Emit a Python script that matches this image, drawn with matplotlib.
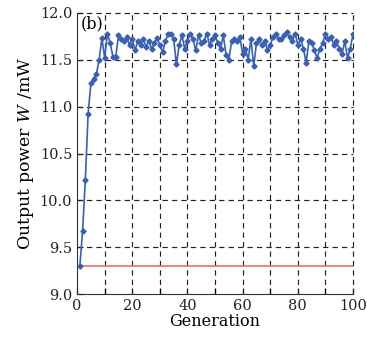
import matplotlib
matplotlib.use('Agg')
import matplotlib.pyplot as plt

plt.rcParams['font.family'] = ['DejaVu Serif']
plt.rcParams['mathtext.fontset'] = 'dejavuserif'

generation = list(range(1, 101))
power = [
    9.30, 9.67, 10.22, 10.92, 11.25, 11.30, 11.35, 11.50, 11.73, 11.52,
    11.78, 11.68, 11.53, 11.53, 11.76, 11.72, 11.70, 11.74, 11.66, 11.72,
    11.60, 11.70, 11.66, 11.72, 11.64, 11.70, 11.62, 11.68, 11.73, 11.66,
    11.58, 11.70, 11.77, 11.78, 11.72, 11.45, 11.66, 11.76, 11.62, 11.70,
    11.78, 11.72, 11.60, 11.76, 11.68, 11.70, 11.78, 11.66, 11.72, 11.76,
    11.68, 11.62, 11.76, 11.55, 11.50, 11.70, 11.72, 11.70, 11.74, 11.56,
    11.62, 11.50, 11.72, 11.43, 11.68, 11.72, 11.66, 11.70, 11.60, 11.66,
    11.74, 11.78, 11.72, 11.72, 11.76, 11.80, 11.74, 11.70, 11.78, 11.66,
    11.72, 11.62, 11.47, 11.70, 11.68, 11.60, 11.52, 11.62, 11.68, 11.78,
    11.72, 11.74, 11.66, 11.70, 11.62, 11.56, 11.70, 11.52, 11.62, 11.78,
]
baseline = 9.30

fig = plt.figure(figsize=(3.67, 3.40), dpi=100)
ax = fig.add_axes([0.210, 0.135, 0.752, 0.827])

ax.axhline(baseline, color='#e8735a', lw=1.2, zorder=2)
ax.plot(generation, power, color='#3a60b3', lw=1.2, marker='D', ms=2.6,
        zorder=3)

ax.set_xlim(0, 100)
ax.set_ylim(9.0, 12.0)
ax.set_xticks(range(0, 101, 20))
ax.set_xticks(range(10, 100, 20), minor=True)
ax.set_yticks([9.0, 9.5, 10.0, 10.5, 11.0, 11.5, 12.0])
ax.set_yticklabels(['9.0', '9.5', '10.0', '10.5', '11.0', '11.5', '12.0'])

for x in range(10, 101, 10):
    ax.axvline(x, color='#222222', lw=0.85, ls=(0, (4.5, 3.5)), zorder=1,
               clip_on=False)
for y in [9.5, 10.0, 10.5, 11.0, 11.5, 12.0]:
    ax.axhline(y, color='#222222', lw=0.85, ls=(0, (4.5, 3.5)), zorder=1,
               clip_on=False)

ax.spines['top'].set_visible(False)
ax.spines['right'].set_visible(False)
ax.spines['left'].set_color('#333333')
ax.spines['bottom'].set_color('#333333')
ax.tick_params(direction='in', labelsize=10.5, length=4, width=0.9,
               colors='#222222')
ax.tick_params(which='minor', direction='in', length=4, width=0.9)

ax.set_xlabel('Generation', fontsize=11.5, labelpad=0)
ax.set_ylabel('Output power $W$ /mW', fontsize=12.5, labelpad=3)
ax.text(1.5, 11.83, '(b)', fontsize=11.5)

fig.savefig('out.png', dpi=100)
